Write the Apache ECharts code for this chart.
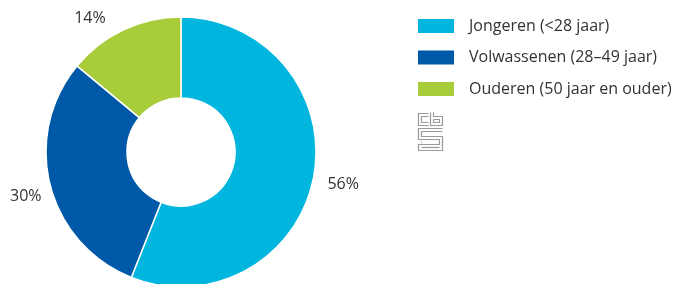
<!DOCTYPE html>
<html>
<head>
<meta charset="utf-8">
<script src="https://cdn.jsdelivr.net/npm/echarts@6/dist/echarts.min.js"></script>
<style>
  html, body { margin: 0; padding: 0; background: #fff; }
  #chart { width: 676px; height: 284px; }
</style>
</head>
<body>
<div id="chart"></div>
<script>
// categories and shares (%)
const categories = ['Jongeren (<28 jaar)', 'Volwassenen (28–49 jaar)', 'Ouderen (50 jaar en ouder)'];
const shares = [56, 30, 14];
const colors = ['#00b6de', '#0058a8', '#a9cd3a'];

// small nudges so the outside labels sit where the original puts them
const labelNudge = [[1, 5], [4, 9], [-10, -3]];

const chart = echarts.init(document.getElementById('chart'));

// cbs logo, drawn as grey outline strokes
const logoStyle = { fill: 'none', stroke: '#9a9a9a', lineWidth: 1.2 };
function logoLine(points) {
  return { type: 'polyline', shape: { points: points }, style: logoStyle, silent: true };
}

chart.setOption({
  backgroundColor: '#fff',
  animation: false,
  color: colors,
  legend: {
    orient: 'vertical',
    left: 411,
    top: 12,
    itemWidth: 38,
    itemHeight: 16,
    itemGap: 13.5,
    icon: 'rect',
    textStyle: { color: '#333', fontSize: 16, lineHeight: 16, fontFamily: 'Open Sans', padding: [0, 0, 0, 9] },
    data: categories
  },
  graphic: [{
    type: 'group',
    left: 416,
    top: 110,
    children: [
      // c
      logoLine([[11, 1], [1, 1], [1, 13], [11, 13]]),
      logoLine([[11, 4], [4, 4], [4, 10], [11, 10]]),
      // b
      logoLine([[13, 0], [13, 13], [25, 13], [25, 4], [16, 4], [16, 0]]),
      logoLine([[16, 7], [22, 7], [22, 10], [16, 10], [16, 7]]),
      // S
      logoLine([[25, 16], [1, 16], [1, 27], [22, 27], [22, 32], [1, 32], [1, 38], [25, 38], [25, 24], [4, 24], [4, 19], [25, 19]]),
      logoLine([[4, 35], [22, 35]]),
      logoLine([[4, 29], [4, 30]])
    ]
  }],
  series: [{
    type: 'pie',
    center: [181, 152],
    radius: [54, 135],
    startAngle: 90,
    clockwise: true,
    avoidLabelOverlap: false,
    itemStyle: { borderColor: '#fff', borderWidth: 1.5 },
    label: {
      show: true,
      position: 'outside',
      formatter: '{c}%',
      color: '#333',
      fontSize: 16,
      fontFamily: 'Open Sans',
      distanceToLabelLine: 4
    },
    labelLine: { show: false, length: 9, length2: 0 },
    labelLayout: function (params) {
      const n = labelNudge[params.dataIndex];
      return { dx: n[0], dy: n[1] };
    },
    emphasis: { disabled: true },
    data: categories.map((name, i) => ({ name: name, value: shares[i] }))
  }]
});
</script>
</body>
</html>
